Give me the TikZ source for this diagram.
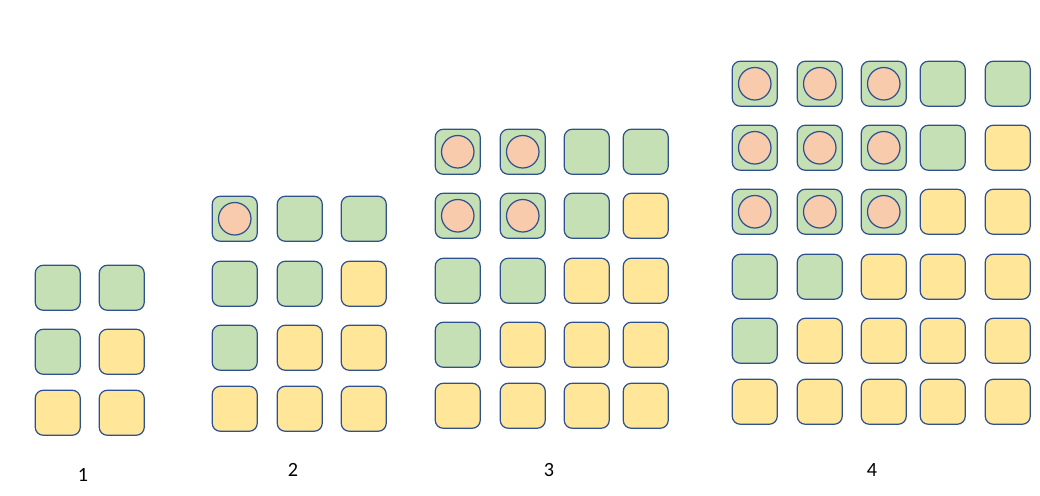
\documentclass[tikz,border=0pt]{standalone}
\usepackage{fontspec}
\setmainfont{Carlito}
\definecolor{cellgreen}{HTML}{C5E0B4}
\definecolor{cellyellow}{HTML}{FFE699}
\definecolor{tokenpeach}{HTML}{F8CBAD}
\definecolor{celledge}{HTML}{2F528F}

\begin{document}
\begin{tikzpicture}[x=0.02cm,y=-0.02cm,
  cell/.style={draw=celledge,line width=0.7pt,rounded corners=0.16cm,minimum size=0.9cm,inner sep=0pt},
  cellg/.style={cell,fill=cellgreen},
  celly/.style={cell,fill=cellyellow},
  cellc/.style={cellg,path picture={\draw[celledge,line width=0.7pt,fill=tokenpeach] (path picture bounding box.center) circle (0.325cm);}},
  stage/.style={font=\fontsize{11.5}{13}\selectfont}]
\useasboundingbox (0,0) rectangle (1040,495);
% stage 1: 2 columns, 3 rows
\foreach \row [count=\j] in {{g,g},{g,y},{y,y}}
  \foreach \k [count=\i] in \row {
    \pgfmathsetmacro\dx{{0,64,129,188,253}[\i-1]}
    \pgfmathsetmacro\dy{{0,61,125,190,254,318}[3-\j]}
    \node[cell\k] (s1-\j-\i) at (35+\dx+22.75,390-\dy+22.75) {};
  }
\node[stage] (n1) at (83,475) {1};
% stage 2: 3 columns, 4 rows
\foreach \row [count=\j] in {{c,g,g},{g,g,y},{g,y,y},{y,y,y}}
  \foreach \k [count=\i] in \row {
    \pgfmathsetmacro\dx{{0,65,129,188,253}[\i-1]}
    \pgfmathsetmacro\dy{{0,61,125,190,254,318}[4-\j]}
    \node[cell\k] (s2-\j-\i) at (212+\dx+22.75,386-\dy+22.75) {};
  }
\node[stage] (n2) at (293,470) {2};
% stage 3: 4 columns, 5 rows
\foreach \row [count=\j] in {{c,c,g,g},{c,c,g,y},{g,g,y,y},{g,y,y,y},{y,y,y,y}}
  \foreach \k [count=\i] in \row {
    \pgfmathsetmacro\dx{{0,65,129,188,253}[\i-1]}
    \pgfmathsetmacro\dy{{0,61,125,190,254,318}[5-\j]}
    \node[cell\k] (s3-\j-\i) at (435+\dx+22.75,383-\dy+22.75) {};
  }
\node[stage] (n3) at (549,470) {3};
% stage 4: 5 columns, 6 rows
\foreach \row [count=\j] in {{c,c,c,g,g},{c,c,c,g,y},{c,c,c,y,y},{g,g,y,y,y},{g,y,y,y,y},{y,y,y,y,y}}
  \foreach \k [count=\i] in \row {
    \pgfmathsetmacro\dx{{0,65,129,188,253}[\i-1]}
    \pgfmathsetmacro\dy{{0,61,125,190,254,318}[6-\j]}
    \node[cell\k] (s4-\j-\i) at (732+\dx+22.75,379-\dy+22.75) {};
  }
\node[stage] (n4) at (872,470) {4};
\end{tikzpicture}
\end{document}
